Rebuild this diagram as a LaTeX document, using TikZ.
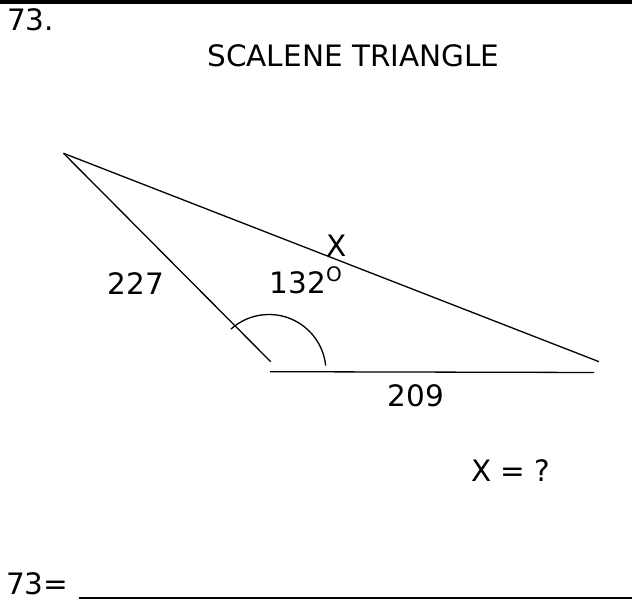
\documentclass[tikz,border=0pt]{standalone}
\usepackage{fontspec}
\setmainfont{DejaVu Sans}
\usetikzlibrary{positioning}

\begin{document}
\begin{tikzpicture}[
  x=1pt, y=1pt,
  font=\fontsize{29.5}{35}\selectfont,
  lbl/.style={inner sep=0pt, anchor=base},
  lblw/.style={lbl, anchor=base west},
  edge/.style={line width=1.3pt},
  topbar/.style={line width=4pt}
]
\useasboundingbox (0,0) rectangle (632,601);
\draw[topbar] (0,599) -- (632,599);
\node[lblw] at (7,570.5)  (num)   {73.};
\node[lbl]  at (353.5,534) (title) {SCALENE TRIANGLE};
% triangle
\coordinate (apex)    at (63.5,447.7);
\coordinate (lowleft) at (270.7,239.3);
\coordinate (far)     at (599,239.3);
\coordinate (base-l)  at (270,229.3);
\coordinate (base-r)  at (594,228.5);
\coordinate (vtx)     at (269,229.5);
\draw[edge] (apex) -- (lowleft);
\draw[edge] (apex) -- (far);
\draw[edge] (base-l) -- (base-r);
\draw[edge] ([shift={(6:57)}]vtx) arc[start angle=6, end angle=132, radius=57];
% labels
\node[lbl]  at (136,306)   (side-a) {227};
\node[lbl]  at (416,194)   (side-b) {209};
\node[lbl]  at (337,344)   (unk)    {X};
\node[lblw] at (269.5,307) (ang)    {132\raisebox{12pt}{\fontsize{20}{24}\selectfont O}};
\node[lbl]  at (511,119)   (ask)    {X = ?};
% answer line
\node[lblw] at (6,6) (ans) {73=};
\coordinate (blank-end) at (632,3);
\draw[line width=1.8pt] ([xshift=10pt,yshift=-3pt]ans.base east) -- (blank-end);
\end{tikzpicture}
\end{document}
